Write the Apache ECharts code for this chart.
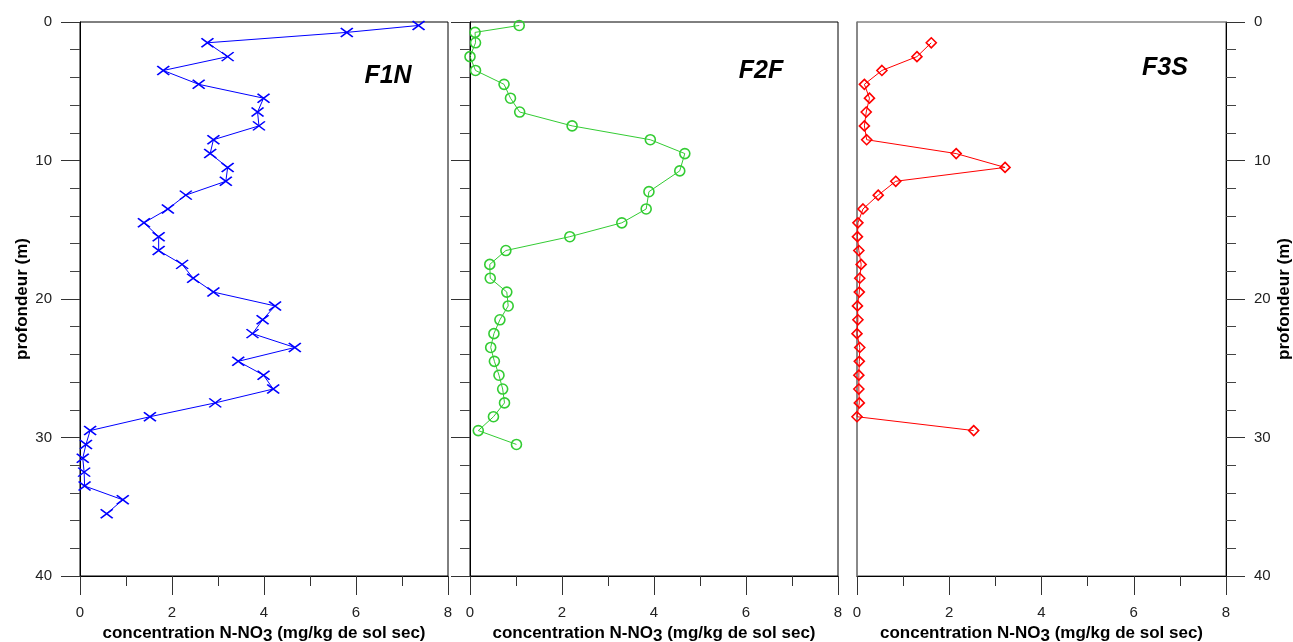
<!DOCTYPE html>
<html>
<head>
<meta charset="utf-8">
<script src="https://cdn.jsdelivr.net/npm/echarts@6/dist/echarts.min.js"></script>
<style>
html,body{margin:0;padding:0;background:#fff;}
#c{width:1293px;height:642px;}
</style>
</head>
<body>
<div id="c"></div>
<script>
// ---- data ----
var panelTitles = ['F1N', 'F2F', 'F3S'];
var xTicks = [0, 2, 4, 6, 8];
var yTicks = [0, 10, 20, 30, 40];

var depthF1N = [0.25, 0.75, 1.5, 2.5, 3.5, 4.5, 5.5, 6.5, 7.5, 8.5, 9.5, 10.5, 11.5, 12.5, 13.5, 14.5, 15.5, 16.5, 17.5, 18.5, 19.5, 20.5,
                21.5, 22.5, 23.5, 24.5, 25.5, 26.5, 27.5, 28.5, 29.5, 30.5, 31.5, 32.5, 33.5, 34.5, 35.5];
var concF1N  = [7.36, 5.80, 2.77, 3.21, 1.81, 2.58, 3.99, 3.86, 3.89, 2.90, 2.83, 3.21, 3.17, 2.30, 1.91, 1.39, 1.71, 1.71, 2.22, 2.46, 2.90, 4.24,
                3.97, 3.75, 4.67, 3.44, 3.99, 4.20, 2.94, 1.52, 0.22, 0.13, 0.06, 0.09, 0.10, 0.93, 0.58];

var depthF2F = [0.25, 0.75, 1.5, 2.5, 3.5, 4.5, 5.5, 6.5, 7.5, 8.5, 9.5, 10.75, 12.25, 13.5, 14.5, 15.5, 16.5, 17.5, 18.5, 19.5, 20.5,
                21.5, 22.5, 23.5, 24.5, 25.5, 26.5, 27.5, 28.5, 29.5, 30.5];
var concF2F  = [1.07, 0.11, 0.12, 0.00, 0.12, 0.74, 0.88, 1.08, 2.22, 3.92, 4.67, 4.56, 3.89, 3.83, 3.30, 2.17, 0.78, 0.43, 0.44, 0.80, 0.83,
                0.65, 0.52, 0.45, 0.53, 0.63, 0.71, 0.75, 0.51, 0.18, 1.01];

var depthF3S = [1.5, 2.5, 3.5, 4.5, 5.5, 6.5, 7.5, 8.5, 9.5, 10.5, 11.5, 12.5, 13.5, 14.5, 15.5, 16.5, 17.5, 18.5, 19.5, 20.5,
                21.5, 22.5, 23.5, 24.5, 25.5, 26.5, 27.5, 28.5, 29.5];
var concF3S  = [1.61, 1.30, 0.54, 0.16, 0.27, 0.20, 0.16, 0.21, 2.15, 3.21, 0.84, 0.46, 0.13, 0.02, 0.01, 0.04, 0.09, 0.06, 0.05, 0.01,
                0.02, 0.00, 0.06, 0.05, 0.04, 0.04, 0.05, 0.00, 2.53];

// ---- build ----
function pairs(xs, ys) { return xs.map(function (v, i) { return [v, ys[i]]; }); }

var FONT = 'Liberation Sans, Arial, sans-serif';
var grids = [
  { left: 80, top: 22, width: 368, height: 554 },
  { left: 470, top: 22, width: 368, height: 554 },
  { left: 857, top: 22, width: 369, height: 554 }
];
var borderCols = ['#000', '#000', '#444'];

var xName = '{a|concentration N-NO}{s|3}{a| (mg/kg de sol sec)}';
var xAxes = [], yAxes = [];
for (var i = 0; i < 3; i++) {
  grids[i].show = true;
  grids[i].borderColor = borderCols[i];
  grids[i].borderWidth = 1;
  grids[i].backgroundColor = 'transparent';
  grids[i].outerBoundsMode = 'none';
  grids[i].containLabel = false;
  xAxes.push({
    type: 'value', gridIndex: i, min: xTicks[0], max: xTicks[xTicks.length - 1], interval: 2,
    position: 'bottom',
    name: xName, nameLocation: 'middle', nameGap: 45,
    nameTextStyle: {
      rich: {
        a: { fontFamily: FONT, fontSize: 17, fontWeight: 'bold', color: '#000' },
        s: { fontFamily: FONT, fontSize: 17, fontWeight: 'bold', color: '#000', padding: [6, 0, 0, 0] }
      }
    },
    axisLine: { show: true, onZero: false, lineStyle: { color: '#000', width: 1 } },
    axisTick: { show: true, length: 19, lineStyle: { color: '#333', width: 1 } },
    minorTick: { show: true, splitNumber: 2, length: 10, lineStyle: { color: '#333', width: 1 } },
    axisLabel: { margin: 29, fontFamily: FONT, fontSize: 15, color: '#222' },
    splitLine: { show: false }
  });
  yAxes.push({
    type: 'value', gridIndex: i, min: yTicks[0], max: yTicks[yTicks.length - 1], interval: 10, inverse: true,
    position: i === 2 ? 'right' : 'left',
    name: i === 1 ? '' : 'profondeur (m)',
    nameLocation: 'middle', nameGap: i === 2 ? 50 : 49, nameRotate: 90,
    nameTextStyle: { fontFamily: FONT, fontSize: 17, fontWeight: 'bold', color: '#000' },
    axisLine: { show: true, onZero: false, lineStyle: { color: '#000', width: 1 } },
    axisTick: { show: true, length: 19, lineStyle: { color: '#333', width: 1 } },
    minorTick: { show: true, splitNumber: 5, length: 10, lineStyle: { color: '#444', width: 1 } },
    axisLabel: { show: i !== 1, margin: 28, fontFamily: FONT, fontSize: 15, color: '#222' },
    splitLine: { show: false }
  });
}
// third panel: grey left edge
yAxes.push({
  type: 'value', gridIndex: 2, min: 0, max: 40, inverse: true, position: 'left',
  axisLine: { show: true, onZero: false, lineStyle: { color: '#808080', width: 1.5 } },
  axisTick: { show: false }, axisLabel: { show: false }, splitLine: { show: false }
});

var crossPath = 'path://M0,0 L12,9 M12,0 L0,9';
var titleStyle = { fontFamily: FONT, fontSize: 25, fontWeight: 'bold', fontStyle: 'italic', color: '#000' };

var option = {
  animation: false,
  backgroundColor: '#fff',
  textStyle: { fontFamily: FONT },
  title: [
    { text: panelTitles[0], left: 383, top: 59, textAlign: 'center', textStyle: titleStyle },
    { text: panelTitles[1], left: 756, top: 54, textAlign: 'center', textStyle: titleStyle },
    { text: panelTitles[2], left: 1160, top: 51, textAlign: 'center', textStyle: titleStyle }
  ],
  grid: grids,
  xAxis: xAxes,
  yAxis: yAxes,
  series: [
    {
      type: 'line', xAxisIndex: 0, yAxisIndex: 0, data: pairs(concF1N, depthF1N),
      symbol: crossPath, symbolSize: [12, 9],
      lineStyle: { color: '#0000ff', width: 1 },
      itemStyle: { color: 'rgba(0,0,0,0)', borderColor: '#0000ff', borderWidth: 1.6 },
      emphasis: { disabled: true }
    },
    {
      type: 'line', xAxisIndex: 1, yAxisIndex: 1, data: pairs(concF2F, depthF2F),
      symbol: 'circle', symbolSize: 10,
      lineStyle: { color: '#33cc33', width: 1 },
      itemStyle: { color: 'rgba(0,0,0,0)', borderColor: '#33cc33', borderWidth: 1.6 },
      emphasis: { disabled: true }
    },
    {
      type: 'line', xAxisIndex: 2, yAxisIndex: 2, data: pairs(concF3S, depthF3S),
      symbol: 'diamond', symbolSize: 10,
      lineStyle: { color: '#ff0000', width: 1 },
      itemStyle: { color: 'rgba(0,0,0,0)', borderColor: '#ff0000', borderWidth: 1.6 },
      emphasis: { disabled: true }
    }
  ]
};

var chart = echarts.init(document.getElementById('c'), null, { renderer: 'canvas' });
chart.setOption(option);
</script>
</body>
</html>
